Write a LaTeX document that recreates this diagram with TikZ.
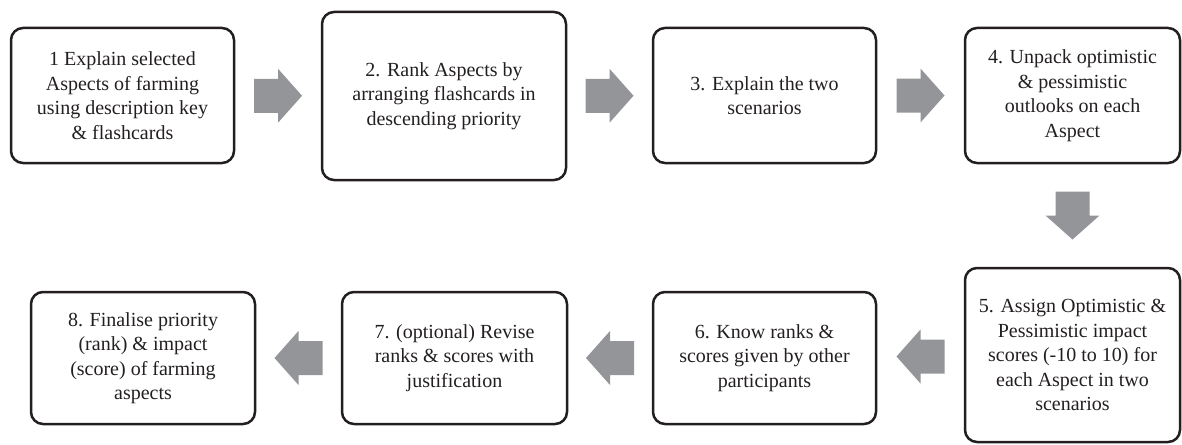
\documentclass[tikz,border=0pt]{standalone}
\usepackage{fontspec}
\setmainfont{Liberation Serif}
\usepackage{tikz}
\usetikzlibrary{calc}
\definecolor{boxline}{RGB}{35,31,32}
\definecolor{arrowgray}{RGB}{147,149,152}
\tikzset{
  stepbox/.style={draw=boxline, line width=2.5pt, rounded corners=12pt, align=center,
    font=\fontsize{20}{24.5}\selectfont, text=boxline, inner sep=0pt},
  pics/flowarrow/.style={code={
    \fill[arrowgray] (-24,-17) -- (0,-17) -- (0,-27) -- (24,0) -- (0,27) -- (0,17) -- (-24,17) -- cycle;}}
}

\begin{document}
\begin{tikzpicture}[x=1pt,y=-1pt]
			\useasboundingbox (0,0) rectangle (1182,444);
			\node[stepbox, minimum width=223pt, minimum height=135pt] (s1) at (122.5,95.5) {1 Explain selected\\Aspects of farming\\using description key\\\& flashcards};
			\node[stepbox, minimum width=244pt, minimum height=168pt] (s2) at (444,96) {2. Rank Aspects by\\arranging flashcards in\\descending priority};
			\node[stepbox, minimum width=223pt, minimum height=135pt] (s3) at (764.5,95.5) {3. Explain the two\\scenarios};
			\node[stepbox, minimum width=215pt, minimum height=135pt] (s4) at (1072.5,95.5) {4. Unpack optimistic\\\& pessimistic\\outlooks on each\\Aspect};
			\node[stepbox, minimum width=215pt, minimum height=174pt] (s5) at (1072.5,355) {5. Assign Optimistic \&\\Pessimistic impact\\scores (-10 to 10) for\\each Aspect in two\\scenarios};
			\node[stepbox, minimum width=223pt, minimum height=132pt] (s6) at (764.5,358) {6. Know ranks \&\\scores given by other\\participants};
			\node[stepbox, minimum width=225pt, minimum height=132pt] (s7) at (454.5,358) {7. (optional) Revise\\ranks \& scores with\\justification};
			\node[stepbox, minimum width=224pt, minimum height=132pt] (s8) at (143,358) {8. Finalise priority\\(rank) \& impact\\(score) of farming\\aspects};
			\pic at ($(s1.east)!0.5!(s2.west)$) {flowarrow};
			\pic at ($(s2.east)!0.5!(s3.west)$) {flowarrow};
			\pic at ($(s3.east)!0.5!(s4.west)$) {flowarrow};
			\pic[rotate=-90] at ($(s4.south)!0.5!(s5.north)$) {flowarrow};
			\pic[rotate=180] at ($(s5.west)!0.5!(s6.east)$) {flowarrow};
			\pic[rotate=180] at ($(s6.west)!0.5!(s7.east)$) {flowarrow};
			\pic[rotate=180] at ($(s7.west)!0.5!(s8.east)$) {flowarrow};
		\end{tikzpicture}
\end{document}
